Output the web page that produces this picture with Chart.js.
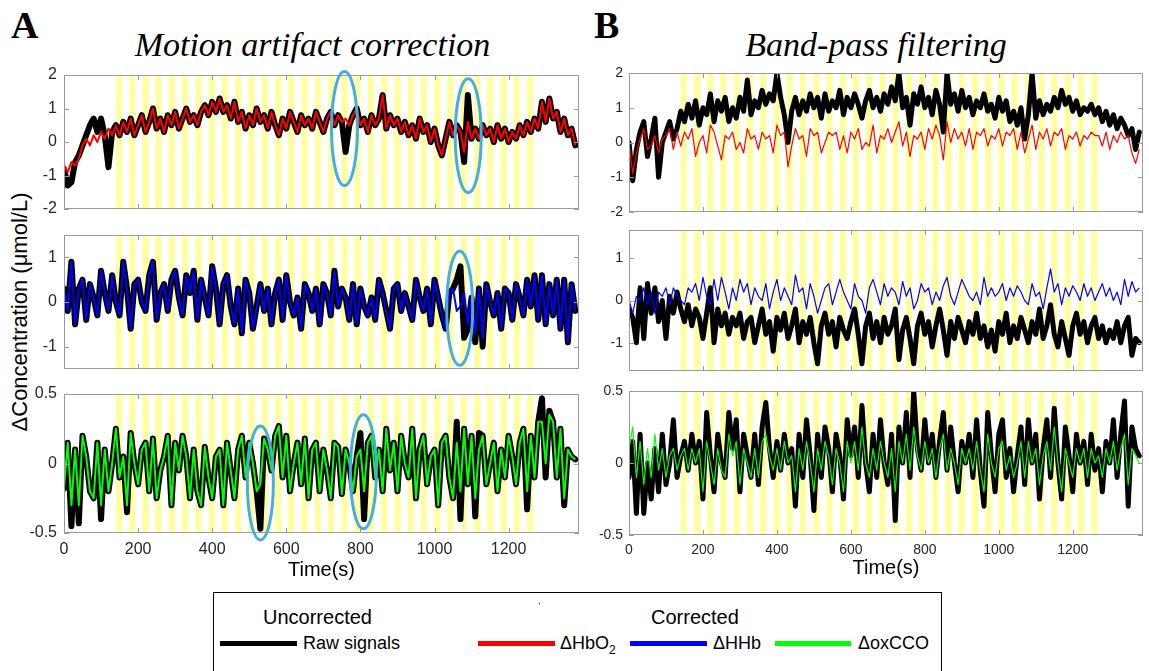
<!DOCTYPE html>
<html>
<head>
<meta charset="utf-8">
<script src="https://cdn.jsdelivr.net/npm/chart.js@4.4.1/dist/chart.umd.min.js"></script>
<style>
  html, body { margin: 0; padding: 0; background: #fff; }
  #fig { position: relative; width: 1149px; height: 671px; overflow: hidden; font-family: "Liberation Sans", Arial, sans-serif; }
  #fig canvas { position: absolute; }
  .abs { position: absolute; white-space: nowrap; line-height: 1; }
  .letter { font-family: "Liberation Serif", "Times New Roman", serif; font-weight: bold; font-size: 38px; }
  .title { font-family: "Liberation Serif", "Times New Roman", serif; font-style: italic; font-size: 34px; text-align: center; }
  .swatch { position: absolute; height: 5px; }
</style>
</head>
<body>
<div id="fig">
  <div class="abs letter" style="left:11px; top:6px;">A</div>
  <div class="abs letter" style="left:594px; top:6px;">B</div>
  <div class="abs title" style="left:0px; width:625px; top:28px;">Motion artifact correction</div>
  <div class="abs title" style="left:626px; width:500px; top:28px;">Band-pass filtering</div>
  <div class="abs" style="left:-130px; top:301px; width:300px; text-align:center; font-size:22px; transform:rotate(-90deg);">&Delta;Concentration (&mu;mol/L)</div>

  <canvas id="a1"></canvas>
  <canvas id="a2"></canvas>
  <canvas id="a3"></canvas>
  <canvas id="b1"></canvas>
  <canvas id="b2"></canvas>
  <canvas id="b3"></canvas>

  <div style="position:absolute; left:213px; top:592px; width:727px; height:110px; border:1px solid #000;"></div>
  <div class="abs" style="left:263px; top:607px; font-size:20px;">Uncorrected</div>
  <div class="abs" style="left:651px; top:607px; font-size:20px;">Corrected</div>
  <div class="abs" style="left:538px; top:596px; font-size:10px;">.</div>
  <div class="swatch" style="left:220px; top:641px; width:77px; background:#000;"></div>
  <div class="abs" style="left:303px; top:634px; font-size:18px;">Raw signals</div>
  <div class="swatch" style="left:478px; top:641px; width:77px; background:#ff0000;"></div>
  <div class="abs" style="left:560px; top:634px; font-size:18px;">&Delta;HbO<sub style="font-size:12px;">2</sub></div>
  <div class="swatch" style="left:630px; top:641px; width:77px; background:#0000ff;"></div>
  <div class="abs" style="left:713px; top:634px; font-size:18px;">&Delta;HHb</div>
  <div class="swatch" style="left:775px; top:641px; width:76px; background:#00ff00;"></div>
  <div class="abs" style="left:858px; top:634px; font-size:18px;">&Delta;oxCCO</div>
</div>

<script>
// sampling grid (s) and axis ticks
const time = Array.from({ length: 139 }, (_, i) => i * 10);
const tMax = 1390;
const xTicks = [0, 200, 400, 600, 800, 1000, 1200];
const yTicksHbO = [-2, -1, 0, 1, 2];
const yTicksHHb = [-1, 0, 1];
const yTicksCCO = [-0.5, 0, 0.5];

// stimulation blocks (onset, s) and block length
const blockOnsets = [140, 176, 212, 247, 283, 319, 355, 391, 426, 462, 498, 534, 570, 605, 641, 677,
  713, 749, 784, 820, 856, 892, 928, 963, 999, 1035, 1071, 1107, 1142, 1178, 1214, 1250];
const blockLen = 16;

// circled motion artifacts (time, level)
const artifactsA1 = [{ t: 757, v: 0.4 }, { t: 1091, v: 0.19 }];
const artifactsA2 = [{ t: 1068, v: -0.14 }];
const artifactsA3 = [{ t: 530, v: -0.14 }, { t: 808, v: -0.06 }];

// --- A: motion artifact correction ---
const hboRawA = [
  -0.8, -1.3, -1.2, -0.6, -0.4, -0.1, 0.2, 0.5, 0.7, 0.3,
  0.7, 0.2, -0.75, 0.3, 0.5, 0.2, 0.6, 0.3, 0.7, 0.2,
  0.5, 0.8, 0.3, 0.6, 1.0, 0.4, 0.7, 0.3, 0.8, 0.5,
  0.9, 0.4, 0.7, 1.0, 0.6, 0.8, 0.5, 0.9, 1.1, 0.8,
  1.2, 0.9, 1.3, 0.9, 1.1, 0.7, 1.2, 0.6, 0.9, 0.4,
  0.8, 0.5, 1.0, 0.6, 0.8, 0.4, 0.9, 0.5, 0.2, 0.7,
  0.4, 0.9, 0.6, 0.3, 0.8, 0.5, 0.7, 0.4, 0.9, 0.6,
  0.3, 0.7, 0.9, 0.5, 0.8, 0.6, -0.3, 0.5, 0.8, 1.0,
  0.5, 0.7, 0.3, 0.8, 0.5, 0.7, 1.4, 0.4, 0.8, 0.5,
  0.7, 0.3, 0.6, 0.2, 0.5, 0.1, 0.7, 0.3, 0.5, 0.0,
  0.4, -0.1, -0.4, 0.1, 0.6, 0.2, 0.5, 0.3, -0.6, 1.4,
  0.1, 0.4, 0.1, 0.5, 0.2, 0.4, 0.0, 0.5, 0.1, 0.4,
  0.0, 0.3, 0.1, 0.5, 0.2, 0.6, 0.3, 0.7, 0.4, 1.2,
  0.6, 1.3, 0.7, 0.9, 0.3, 0.7, 0.2, 0.4, -0.1
];
const hboCorrA = [
  -0.7, -0.9, -0.6, -0.7, -0.5, -0.1, 0.1, -0.1, 0.2, 0.0,
  0.3, 0.1, 0.4, 0.2, 0.5, 0.2, 0.6, 0.3, 0.7, 0.2,
  0.5, 0.8, 0.3, 0.6, 1.0, 0.4, 0.7, 0.3, 0.8, 0.5,
  0.9, 0.4, 0.7, 1.0, 0.6, 0.8, 0.5, 0.9, 1.1, 0.8,
  1.2, 0.9, 1.3, 0.9, 1.1, 0.7, 1.2, 0.6, 0.9, 0.4,
  0.8, 0.5, 1.0, 0.6, 0.8, 0.4, 0.9, 0.5, 0.2, 0.7,
  0.4, 0.9, 0.6, 0.3, 0.8, 0.5, 0.7, 0.4, 0.9, 0.6,
  0.3, 0.7, 0.9, 0.5, 0.8, 0.6, 0.7, 0.5, 0.8, 1.0,
  0.5, 0.7, 0.3, 0.8, 0.5, 0.7, 1.4, 0.4, 0.8, 0.5,
  0.7, 0.3, 0.6, 0.2, 0.5, 0.1, 0.7, 0.3, 0.5, 0.0,
  0.4, -0.1, -0.4, 0.1, 0.6, 0.2, 0.5, 0.3, -0.3, 0.6,
  0.1, 0.4, 0.1, 0.5, 0.2, 0.4, 0.0, 0.5, 0.1, 0.4,
  0.0, 0.3, 0.1, 0.5, 0.2, 0.6, 0.3, 0.7, 0.4, 1.2,
  0.6, 1.3, 0.7, 0.9, 0.3, 0.7, 0.2, 0.4, -0.1
];
const hhbRawA = [
  0.3, -0.2, 0.9, -0.5, 0.3, 0.5, -0.4, 0.4, 0.1, -0.3,
  0.7, 0.2, -0.2, 0.6, 0.0, -0.3, 0.9, 0.3, -0.6, 0.4,
  0.5, 0.0, -0.2, 0.6, 0.9, -0.4, 0.2, 0.4, -0.2, 0.5,
  0.7, 0.1, -0.3, 0.6, 0.2, 0.7, -0.4, 0.5, 0.1, -0.3,
  0.8, 0.3, -0.5, 0.4, 0.6, -0.1, -0.5, 0.3, -0.7, 0.5,
  0.2, -0.6, -0.1, 0.4, -0.2, 0.3, -0.5, 0.2, 0.5, -0.4,
  0.6, 0.0, -0.3, 0.1, -0.6, 0.4, 0.2, -0.2, 0.3, -0.5,
  0.4, 0.2, -0.3, 0.7, -0.1, 0.3, 0.1, -0.4, 0.4, -0.5,
  0.3, -0.1, -0.3, 0.1, -0.4, 0.5, 0.2, -0.2, -0.6, 0.3,
  0.4, -0.2, 0.2, -0.1, -0.4, 0.5, 0.1, -0.2, 0.3, -0.5,
  0.5, 0.1, -0.3, -0.6, 0.2, 0.3, 0.5, 0.8, -0.8, -0.6,
  0.1, -0.9, 0.3, -1.0, 0.4, 0.0, -0.3, 0.2, -0.6, 0.3,
  0.2, -0.4, 0.4, 0.1, -0.3, 0.5, -0.1, 0.6, -0.4, 0.6,
  -0.5, 0.4, -0.3, 0.5, -0.6, 0.5, -0.9, 0.4, -0.2
];
const hhbCorrA = [
  0.3, -0.2, 0.9, -0.5, 0.3, 0.5, -0.4, 0.4, 0.1, -0.3,
  0.7, 0.2, -0.2, 0.6, 0.0, -0.3, 0.9, 0.3, -0.6, 0.4,
  0.5, 0.0, -0.2, 0.6, 0.9, -0.4, 0.2, 0.4, -0.2, 0.5,
  0.7, 0.1, -0.3, 0.6, 0.2, 0.7, -0.4, 0.5, 0.1, -0.3,
  0.8, 0.3, -0.5, 0.4, 0.6, -0.1, -0.5, 0.3, -0.7, 0.5,
  0.2, -0.6, -0.1, 0.4, -0.2, 0.3, -0.5, 0.2, 0.5, -0.4,
  0.6, 0.0, -0.3, 0.1, -0.6, 0.4, 0.2, -0.2, 0.3, -0.5,
  0.4, 0.2, -0.3, 0.7, -0.1, 0.3, 0.1, -0.4, 0.4, -0.5,
  0.3, -0.1, -0.3, 0.1, -0.4, 0.5, 0.2, -0.2, -0.6, 0.3,
  0.4, -0.2, 0.2, -0.1, -0.4, 0.5, 0.1, -0.2, 0.3, -0.5,
  0.5, 0.1, -0.3, -0.6, 0.2, 0.3, -0.2, -0.1, 0.2, -0.5,
  0.1, -0.7, 0.3, -0.8, 0.4, 0.0, -0.3, 0.2, -0.6, 0.3,
  0.2, -0.4, 0.4, 0.1, -0.3, 0.5, -0.1, 0.6, -0.4, 0.6,
  -0.5, 0.4, -0.3, 0.5, -0.6, 0.5, -0.9, 0.4, -0.2
];
const ccoRawA = [
  -0.18, 0.15, -0.45, 0.1, -0.43, 0.2, 0.05, -0.2, -0.25, 0.15,
  -0.4, 0.1, -0.2, 0.0, 0.25, -0.1, 0.05, -0.35, 0.22, 0.0,
  -0.15, 0.1, 0.15, -0.2, 0.18, -0.25, -0.05, 0.05, 0.2, -0.3,
  0.15, -0.05, 0.2, 0.05, -0.25, 0.1, -0.2, -0.3, 0.12, -0.1,
  -0.25, 0.05, 0.1, -0.3, 0.15, -0.05, -0.25, 0.1, 0.2, -0.1,
  0.15, 0.0, -0.2, -0.47, 0.18, 0.1, -0.05, 0.2, 0.27, -0.1,
  0.2, -0.2, 0.0, 0.15, -0.15, 0.18, -0.25, 0.1, 0.15, -0.2,
  0.1, -0.05, -0.25, 0.15, 0.12, -0.22, 0.1, 0.0, -0.2, 0.05,
  0.22, -0.4, 0.15, 0.2, -0.1, 0.1, -0.2, 0.25, -0.05, 0.15,
  -0.2, 0.2, 0.0, -0.1, 0.25, -0.25, 0.1, 0.2, -0.15, 0.05,
  0.1, -0.3, 0.15, 0.2, -0.1, -0.25, 0.3, -0.4, 0.25, -0.15,
  0.2, -0.38, 0.22, 0.2, -0.15, 0.0, 0.15, -0.2, 0.1, -0.1,
  0.2, 0.05, -0.15, 0.15, 0.25, -0.33, 0.2, -0.1, 0.3, 0.47,
  -0.1, 0.38, 0.3, -0.1, 0.25, -0.3, 0.1, 0.05, 0.03
];
const ccoCorrA = [
  -0.18, 0.15, -0.3, 0.1, -0.3, 0.2, 0.05, -0.2, -0.25, 0.15,
  -0.3, 0.1, -0.2, 0.0, 0.25, -0.1, 0.05, -0.3, 0.22, 0.0,
  -0.15, 0.1, 0.15, -0.2, 0.18, -0.25, -0.05, 0.05, 0.2, -0.3,
  0.15, -0.05, 0.2, 0.05, -0.25, 0.1, -0.2, -0.3, 0.12, -0.1,
  -0.25, 0.05, 0.1, -0.3, 0.15, -0.05, -0.25, 0.1, 0.2, -0.1,
  0.15, 0.0, -0.2, -0.15, 0.18, 0.1, -0.05, 0.2, 0.27, -0.1,
  0.2, -0.2, 0.0, 0.15, -0.15, 0.18, -0.25, 0.1, 0.15, -0.2,
  0.1, -0.05, -0.25, 0.15, 0.12, -0.22, 0.1, 0.0, -0.2, 0.05,
  0.1, -0.2, 0.15, 0.2, -0.1, 0.1, -0.2, 0.25, -0.05, 0.15,
  -0.2, 0.2, 0.0, -0.1, 0.25, -0.25, 0.1, 0.2, -0.15, 0.05,
  0.1, -0.3, 0.15, 0.2, -0.1, -0.25, 0.15, -0.2, 0.25, -0.15,
  0.2, -0.25, 0.1, 0.2, -0.15, 0.0, 0.15, -0.2, 0.1, -0.1,
  0.2, 0.05, -0.15, 0.15, 0.25, -0.2, 0.2, -0.1, 0.3, 0.3,
  0.0, 0.35, 0.3, -0.1, 0.25, -0.25, 0.1, 0.05, 0.03
];

// --- B: band-pass filtering ---
const hboRawB = [
  0.0, -1.1, -0.2, 0.3, 0.6, -0.4, 0.1, 0.7, -1.0, 0.0,
  0.3, 0.6, 0.1, 0.4, 0.9, 0.6, 1.1, 0.7, 1.2, 0.5,
  1.0, 0.8, 1.4, 0.6, 1.2, 0.9, 1.3, 0.6, 1.0, 0.7,
  1.3, 0.9, 1.8, 0.8, 1.2, 1.0, 1.5, 1.1, 1.4, 1.2,
  2.0, 1.3, 0.8, 0.0, 0.9, 1.3, 0.8, 1.2, 0.9, 1.4,
  1.0, 1.3, 0.7, 1.4, 0.9, 1.2, 1.0, 1.5, 0.8, 1.3,
  1.0, 1.4, 1.1, 0.7, 1.2, 1.5, 1.0, 1.3, 0.9, 1.4,
  1.1, 1.6, 1.2, 2.0, 1.0, 1.3, 0.5, 1.4, 1.1, 1.6,
  1.0, 1.3, 0.8, 1.5, 1.1, 0.3, 2.0, 1.1, 1.4, 0.9,
  1.5, 1.0, 1.3, 0.8, 1.2, 1.0, 1.4, 0.9, 1.1, 0.7,
  1.3, 0.9, 1.2, 0.6, 0.9, 0.5, 1.0, 0.1, 0.8, 2.0,
  0.7, 1.2, 0.8, 1.1, 0.9, 1.3, 1.0, 1.5, 1.1, 1.3,
  0.9, 1.2, 0.8, 1.0, 0.9, 1.1, 0.8, 1.0, 0.6, 0.9,
  0.5, 0.8, 0.4, 0.7, 0.5, 0.2, 0.4, -0.2, 0.3
];
const hboCorrB = [
  0.0, -0.9, -0.3, 0.1, 0.4, -0.2, -0.1, 0.2, -0.3, 0.1,
  0.2, 0.4, -0.2, 0.3, -0.1, 0.3, 0.1, 0.4, -0.4, 0.0,
  0.2, -0.3, 0.5, 0.3, -0.1, -0.5, 0.2, 0.1, 0.3, -0.2,
  0.0, -0.3, 0.4, 0.1, 0.2, -0.2, 0.3, 0.1, 0.2, -0.3,
  0.5, 0.2, 0.3, -0.7, -0.1, 0.4, 0.1, 0.2, -0.4, 0.4,
  0.2, 0.3, -0.3, 0.0, 0.3, 0.2, 0.3, -0.2, 0.2, -0.3,
  0.3, 0.1, 0.4, -0.2, 0.0, -0.1, 0.5, -0.3, 0.2, 0.1,
  0.4, 0.0, 0.3, 0.6, -0.1, 0.3, -0.4, 0.2, 0.1, 0.3,
  -0.2, 0.4, 0.1, 0.5, 0.2, -0.5, 0.6, 0.0, 0.4, 0.1,
  0.3, -0.1, 0.4, -0.2, 0.3, 0.2, 0.4, -0.1, 0.2, 0.1,
  0.4, -0.1, 0.3, 0.2, 0.4, -0.2, 0.3, -0.3, 0.1, 0.5,
  -0.2, 0.3, 0.1, 0.4, -0.1, 0.3, 0.2, 0.4, -0.2, 0.2,
  0.1, 0.3, -0.1, 0.2, 0.1, 0.3, 0.2, 0.2, -0.1, 0.3,
  -0.2, 0.2, 0.0, 0.3, 0.1, 0.2, -0.3, -0.6, -0.2
];
const hhbRawB = [
  -0.2, -0.4, -1.0, 0.3, -0.9, 0.4, -0.3, 0.3, -0.5, 0.0,
  -0.9, 0.1, -0.3, 0.2, -0.2, -0.5, -0.1, -0.6, -0.2, -0.4,
  -0.9, -0.3, 0.3, -1.0, -0.2, -0.6, -0.3, -0.8, -0.4, -0.6,
  -0.3, -0.9, -0.5, -0.4, -1.0, -0.6, -0.2, -0.8, -0.5, -1.2,
  -0.4, -0.7, -0.3, -0.9, -0.6, -0.2, -1.0, -0.5, -0.8, -0.4,
  -1.0, -1.5, -0.6, -0.3, -0.8, -0.5, -1.1, -0.4, -0.7, -0.9,
  -0.5, -0.2, -0.8, -1.5, -0.6, -0.3, -0.9, -0.5, -1.0, -0.4,
  -0.8, -0.6, -0.2, -1.4, -0.7, -0.4, -0.9, -1.5, -0.6, -0.3,
  -0.8, -0.5, -1.1, -0.6, -0.2, -0.7, -1.3, -0.5, -0.9, -0.4,
  -0.7, -1.0, -0.5, -0.8, -0.3, -0.9, -0.6, -1.1, -0.7, -1.2,
  -0.5, -0.8, -0.3, -1.0, -0.6, -0.9, -0.4, -0.7, -1.0, -0.5,
  -0.8, -0.2, -0.9, -0.6, -0.1, -0.8, -1.1, -0.5, -0.9, -1.3,
  -0.6, -0.3, -0.8, -0.5, -1.0, -0.6, -0.4, -0.9, -0.6, -1.0,
  -0.7, -0.9, -0.5, -1.0, -0.6, -0.4, -1.3, -0.9, -1.0
];
const hhbCorrB = [
  0.0, -0.3, 0.1, 0.0, 0.3, -0.1, 0.2, -0.3, 0.2, 0.1,
  0.3, -0.1, 0.3, 0.1, 0.0, -0.1, 0.3, 0.2, 0.4, 0.0,
  0.55, 0.1, -0.1, 0.5, 0.0, 0.55, 0.2, -0.2, 0.3, 0.0,
  0.5, 0.2, 0.4, -0.1, 0.3, 0.1, 0.0, 0.4, -0.2, 0.2,
  0.5, 0.0, 0.3, 0.1, -0.1, 0.6, 0.2, 0.3, -0.2, 0.4,
  0.1, -0.3, 0.0, 0.3, 0.4, -0.1, 0.2, 0.5, 0.2, 0.0,
  -0.2, 0.4, 0.1, 0.0, -0.3, 0.3, 0.5, 0.2, -0.1, 0.4,
  0.1, 0.3, 0.2, -0.1, 0.45, 0.1, 0.3, -0.2, 0.0, 0.4,
  0.2, 0.3, -0.1, 0.2, 0.0, 0.35, 0.55, 0.1, -0.1, 0.2,
  0.5, 0.3, 0.1, 0.0, 0.2, -0.1, 0.55, 0.1, 0.3, 0.1,
  0.2, 0.4, 0.0, 0.3, 0.1, 0.35, 0.2, 0.0, -0.1, 0.4,
  0.1, 0.2, -0.2, 0.3, 0.75, 0.2, 0.4, -0.1, 0.3, 0.1,
  0.35, 0.2, 0.0, 0.4, 0.1, 0.3, 0.0, 0.2, 0.4, 0.1,
  0.3, 0.0, 0.2, -0.1, 0.5, 0.1, 0.45, 0.2, 0.3
];
const ccoRawB = [
  -0.1, 0.15, -0.35, 0.2, -0.35, 0.0, -0.25, 0.1, -0.2, 0.2,
  -0.15, 0.0, 0.3, -0.1, 0.05, 0.15, -0.05, 0.2, 0.0, 0.15,
  -0.25, 0.35, 0.05, -0.2, 0.2, 0.0, -0.1, 0.35, 0.1, 0.3,
  -0.2, 0.2, 0.05, -0.1, 0.2, -0.15, 0.25, 0.42, 0.1, -0.1,
  0.15, -0.05, 0.2, 0.0, 0.1, -0.3, 0.2, -0.1, 0.3, 0.05,
  -0.33, 0.2, -0.1, 0.25, 0.1, -0.2, 0.2, 0.05, -0.25, 0.3,
  0.05, 0.25, -0.1, 0.4, 0.0, -0.2, 0.2, -0.1, 0.3, 0.0,
  -0.15, 0.2, -0.4, 0.25, 0.0, 0.35, -0.1, 0.5, 0.1, -0.05,
  0.3, 0.0, 0.2, -0.1, 0.15, 0.35, -0.05, 0.25, 0.0, -0.2,
  0.15, 0.0, 0.2, -0.1, 0.3, -0.05, -0.3, 0.35, 0.05, -0.2,
  0.2, 0.3, -0.1, 0.1, -0.2, 0.05, 0.25, -0.15, 0.3, 0.0,
  0.2, -0.25, 0.1, 0.3, -0.1, 0.38, 0.0, -0.25, 0.25, 0.05,
  -0.2, 0.2, 0.0, 0.15, -0.15, 0.2, -0.05, 0.1, -0.2, 0.15,
  0.0, 0.3, -0.1, 0.2, 0.43, -0.3, 0.25, 0.1, 0.05
];
const ccoCorrB = [
  0.1, 0.25, -0.1, 0.15, -0.15, 0.1, -0.1, 0.2, -0.05, 0.1,
  -0.1, 0.05, 0.1, -0.05, 0.05, 0.1, -0.05, 0.1, 0.0, 0.1,
  -0.2, 0.15, 0.0, -0.15, 0.1, -0.05, -0.1, 0.2, 0.05, 0.15,
  -0.15, 0.1, 0.0, -0.1, 0.1, -0.1, 0.15, 0.2, 0.05, -0.05,
  0.1, -0.05, 0.15, 0.0, 0.05, -0.2, 0.1, -0.05, 0.15, 0.0,
  -0.2, 0.1, -0.05, 0.15, 0.05, -0.15, 0.1, 0.0, -0.2, 0.15,
  0.0, 0.15, -0.05, 0.25, 0.0, -0.1, 0.1, -0.05, 0.15, 0.0,
  -0.1, 0.1, -0.2, 0.15, 0.0, 0.2, -0.05, 0.25, 0.05, -0.05,
  0.15, 0.0, 0.1, -0.1, 0.1, 0.2, -0.05, 0.1, 0.0, -0.15,
  0.1, 0.0, 0.1, -0.05, 0.15, -0.05, -0.2, 0.2, 0.0, -0.1,
  0.1, 0.15, -0.05, 0.05, -0.1, 0.0, 0.15, -0.1, 0.15, 0.0,
  0.1, -0.15, 0.05, 0.15, -0.05, 0.25, 0.0, -0.2, 0.1, 0.0,
  -0.1, 0.1, 0.0, 0.1, -0.1, 0.1, 0.0, 0.05, -0.1, 0.1,
  0.0, 0.15, -0.05, 0.1, 0.2, -0.15, 0.1, 0.05, 0.0
];

// yellow task blocks behind the traces
const stripes = {
  id: "stripes",
  beforeDatasetsDraw(chart) {
    const { ctx, chartArea: a, scales: { x } } = chart;
    ctx.save();
    ctx.fillStyle = "#ffff9e";
    blockOnsets.forEach((t0) => {
      const x0 = x.getPixelForValue(t0);
      const x1 = x.getPixelForValue(t0 + blockLen);
      ctx.fillRect(x0, a.top, x1 - x0, a.bottom - a.top);
    });
    ctx.restore();
  },
};

// matlab style box, inward ticks and the artifact ellipses
const frame = {
  id: "frame",
  afterDatasetsDraw(chart, args, opts) {
    const { ctx, chartArea: a, scales: { x, y } } = chart;
    ctx.save();
    ctx.strokeStyle = "#9a9a9a";
    ctx.lineWidth = 1;
    ctx.strokeRect(Math.round(a.left) + 0.5, Math.round(a.top) + 0.5, Math.round(a.width) - 1, Math.round(a.height) - 1);
    ctx.beginPath();
    xTicks.forEach((v) => {
      const px = Math.round(x.getPixelForValue(v)) + 0.5;
      ctx.moveTo(px, a.bottom); ctx.lineTo(px, a.bottom - 5);
      ctx.moveTo(px, a.top); ctx.lineTo(px, a.top + 5);
    });
    opts.yTicks.forEach((v) => {
      const py = Math.round(y.getPixelForValue(v)) + 0.5;
      ctx.moveTo(a.left, py); ctx.lineTo(a.left + 5, py);
      ctx.moveTo(a.right, py); ctx.lineTo(a.right - 5, py);
    });
    ctx.stroke();

    ctx.strokeStyle = "#45ade3";
    ctx.lineWidth = 3;
    (opts.marks || []).forEach((m) => {
      ctx.beginPath();
      ctx.ellipse(x.getPixelForValue(m.t), y.getPixelForValue(m.v), 13, 57, 0, 0, Math.PI * 2);
      ctx.stroke();
    });
    ctx.restore();
  },
};

const panels = [
  { id: "a1", left: 64, top: 72, w: 515, h: 142, raw: hboRawA, corr: hboCorrA, color: "#ff0000", yMin: -2, yMax: 2, yTicks: yTicksHbO, marks: artifactsA1, colA: true, bottom: false },
  { id: "a2", left: 64, top: 232, w: 515, h: 142, raw: hhbRawA, corr: hhbCorrA, color: "#0000ff", yMin: -1.5, yMax: 1.5, yTicks: yTicksHHb, marks: artifactsA2, colA: true, bottom: false },
  { id: "a3", left: 64, top: 391, w: 515, h: 142, raw: ccoRawA, corr: ccoCorrA, color: "#00ff00", yMin: -0.5, yMax: 0.5, yTicks: yTicksCCO, marks: artifactsA3, colA: true, bottom: true },
  { id: "b1", left: 629, top: 72, w: 514, h: 143, raw: hboRawB, corr: hboCorrB, color: "#ff0000", yMin: -2, yMax: 2, yTicks: yTicksHbO, marks: [], colA: false, bottom: false },
  { id: "b2", left: 629, top: 229, w: 514, h: 145, raw: hhbRawB, corr: hhbCorrB, color: "#0000ff", yMin: -1.67, yMax: 1.67, yTicks: yTicksHHb, marks: [], colA: false, bottom: false },
  { id: "b3", left: 629, top: 390, w: 514, h: 145, raw: ccoRawB, corr: ccoCorrB, color: "#00ff00", yMin: -0.5, yMax: 0.5, yTicks: yTicksCCO, marks: [], colA: false, bottom: true },
];

function toPoints(values) {
  return values.map((v, i) => ({ x: time[i], y: v }));
}

function drawPanel(p) {
  const axisW = 60, padTop = 12, padRight = 8;
  const padBottom = p.bottom ? 0 : 10;
  const xAxisH = p.bottom ? 50 : 0;
  const tickSize = p.colA ? 16 : 14;

  const canvas = document.getElementById(p.id);
  canvas.width = p.w + axisW + padRight;
  canvas.height = p.h + padTop + padBottom + xAxisH;
  canvas.style.left = p.left - axisW + "px";
  canvas.style.top = p.top - padTop + "px";

  new Chart(canvas.getContext("2d"), {
    type: "line",
    data: {
      datasets: [
        {
          data: toPoints(p.corr),
          borderColor: p.color,
          borderWidth: p.colA ? 2 : 1.2,
          pointRadius: 0,
          tension: 0,
          borderJoinStyle: "round",
        },
        {
          data: toPoints(p.raw),
          borderColor: "#000000",
          borderWidth: p.colA ? 6 : 5,
          pointRadius: 0,
          tension: 0,
          borderJoinStyle: "round",
          borderCapStyle: "round",
        },
      ],
    },
    options: {
      animation: false,
      responsive: false,
      devicePixelRatio: 1,
      layout: { padding: { top: padTop, right: padRight, bottom: padBottom, left: 0 } },
      plugins: {
        legend: { display: false },
        tooltip: { enabled: false },
        frame: { yTicks: p.yTicks, marks: p.marks },
      },
      scales: {
        x: {
          type: "linear",
          min: 0,
          max: tMax,
          display: p.bottom,
          afterBuildTicks: (s) => { s.ticks = xTicks.map((v) => ({ value: v })); },
          afterFit: (s) => { s.height = xAxisH; },
          grid: { display: false, drawTicks: false },
          border: { display: false },
          ticks: {
            padding: p.colA ? 9 : 8,
            maxRotation: 0,
            color: "#262626",
            font: { size: tickSize, lineHeight: 1 },
            callback: (v) => String(v),
          },
          title: {
            display: true,
            text: "Time(s)",
            color: "#000000",
            font: { size: 20, lineHeight: 1 },
            padding: { top: 0, bottom: p.colA ? 3 : 7 },
          },
        },
        y: {
          min: p.yMin,
          max: p.yMax,
          afterBuildTicks: (s) => { s.ticks = p.yTicks.map((v) => ({ value: v })); },
          afterFit: (s) => { s.width = axisW; },
          grid: { display: false, drawTicks: false },
          border: { display: false },
          ticks: {
            padding: p.colA ? 7 : 6,
            color: "#262626",
            font: { size: tickSize, lineHeight: 1 },
            callback: (v) => String(v),
          },
        },
      },
    },
    plugins: [stripes, frame],
  });
}

Chart.defaults.font.family = '"Liberation Sans", Arial, sans-serif';
panels.forEach(drawPanel);
</script>
</body>
</html>
